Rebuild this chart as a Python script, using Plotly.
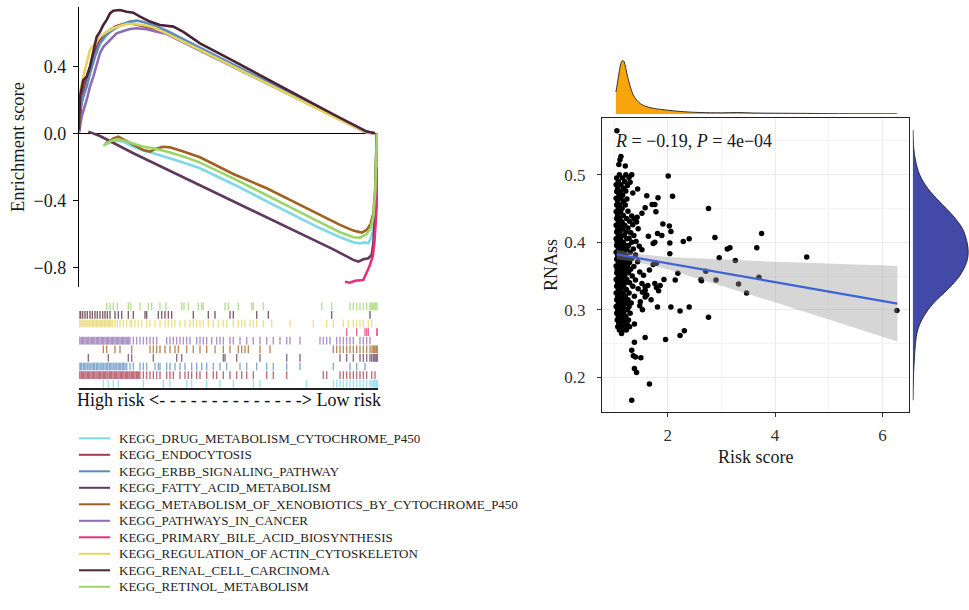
import plotly.graph_objects as go

W, H = 969, 610
FONT = "Liberation Serif, Times New Roman, serif"

# ---------------- GSEA data ----------------
gene_sets = [
    "KEGG_DRUG_METABOLISM_CYTOCHROME_P450",
    "KEGG_ENDOCYTOSIS",
    "KEGG_ERBB_SIGNALING_PATHWAY",
    "KEGG_FATTY_ACID_METABOLISM",
    "KEGG_METABOLISM_OF_XENOBIOTICS_BY_CYTOCHROME_P450",
    "KEGG_PATHWAYS_IN_CANCER",
    "KEGG_PRIMARY_BILE_ACID_BIOSYNTHESIS",
    "KEGG_REGULATION_OF ACTIN_CYTOSKELETON",
    "KEGG_RENAL_CELL_CARCINOMA",
    "KEGG_RETINOL_METABOLISM",
]
set_colors = ["#7DD8E8", "#A33A4E", "#5B8DBE", "#5E3A5C", "#A0601E",
              "#8E6DB2", "#E8307A", "#E5D65A", "#4A2436", "#9BD66A"]

# running enrichment score (rank position in ranked list, ES)
drug_rank = [83, 98, 113, 133, 163, 193, 223, 263, 313, 363, 463, 563, 633, 713, 783, 823, 843, 858, 868, 875, 883, 889, 894]
drug_es = [-0.064, -0.050, -0.044, -0.050, -0.080, -0.103, -0.119, -0.143, -0.175, -0.209, -0.304, -0.406, -0.478, -0.557, -0.621, -0.651, -0.657, -0.651, -0.657, -0.627, -0.577, -0.418, 0.000]
endo_rank = [0, 8, 18, 33, 48, 63, 78, 93, 108, 123, 143, 163, 193, 223, 263, 363, 463, 563, 663, 763, 863, 883]
endo_es = [0.010, 0.199, 0.299, 0.398, 0.488, 0.557, 0.597, 0.617, 0.637, 0.647, 0.657, 0.653, 0.641, 0.627, 0.606, 0.503, 0.402, 0.302, 0.203, 0.101, 0.006, 0.000]
erbb_rank = [0, 3, 13, 23, 33, 48, 63, 78, 93, 113, 133, 153, 173, 193, 223, 263, 363, 463, 563, 663, 763, 863, 888]
erbb_es = [0.010, 0.139, 0.219, 0.279, 0.358, 0.458, 0.537, 0.577, 0.606, 0.633, 0.653, 0.667, 0.673, 0.665, 0.647, 0.613, 0.511, 0.412, 0.310, 0.211, 0.109, 0.010, 0.000]
fatty_rank = [28, 63, 163, 263, 363, 463, 563, 663, 763, 823, 838, 853, 868, 878, 883, 888, 891, 893]
fatty_es = [0.010, -0.016, -0.119, -0.215, -0.310, -0.406, -0.501, -0.597, -0.693, -0.756, -0.766, -0.752, -0.746, -0.726, -0.657, -0.498, -0.239, 0.000]
xeno_rank = [78, 88, 103, 118, 133, 153, 173, 193, 213, 233, 253, 273, 313, 363, 463, 563, 633, 713, 783, 823, 848, 863, 875, 883, 889, 893]
xeno_es = [-0.064, -0.050, -0.030, -0.020, -0.036, -0.060, -0.080, -0.100, -0.109, -0.090, -0.080, -0.084, -0.109, -0.143, -0.243, -0.328, -0.398, -0.478, -0.547, -0.581, -0.593, -0.577, -0.541, -0.478, -0.318, 0.000]
cancer_rank = [0, 8, 23, 33, 43, 53, 63, 73, 83, 98, 113, 133, 153, 173, 203, 233, 263, 363, 463, 563, 663, 763, 863, 883]
cancer_es = [0.004, 0.100, 0.199, 0.279, 0.338, 0.408, 0.478, 0.517, 0.537, 0.567, 0.597, 0.611, 0.623, 0.627, 0.621, 0.606, 0.593, 0.494, 0.396, 0.297, 0.197, 0.098, 0.004, 0.000]
bile_rank = [798, 813, 828, 853, 861, 871, 881, 886, 890, 894, 896]
bile_es = [-0.886, -0.892, -0.880, -0.876, -0.840, -0.796, -0.737, -0.657, -0.537, -0.398, -0.200]
actin_rank = [0, 3, 13, 23, 33, 48, 63, 83, 103, 123, 143, 163, 193, 223, 263, 363, 463, 563, 663, 763, 863, 883]
actin_es = [0.040, 0.249, 0.338, 0.418, 0.498, 0.537, 0.577, 0.606, 0.627, 0.641, 0.653, 0.653, 0.647, 0.633, 0.597, 0.498, 0.398, 0.299, 0.199, 0.100, 0.006, 0.000]
renal_rank = [0, 3, 13, 23, 33, 43, 53, 63, 73, 83, 93, 103, 123, 143, 163, 183, 213, 243, 263, 283, 313, 363, 463, 563, 663, 763, 863, 888]
renal_es = [0.020, 0.219, 0.318, 0.338, 0.398, 0.498, 0.577, 0.606, 0.647, 0.677, 0.716, 0.732, 0.736, 0.726, 0.720, 0.697, 0.667, 0.647, 0.641, 0.637, 0.606, 0.537, 0.432, 0.324, 0.219, 0.113, 0.010, 0.000]
retinol_rank = [73, 83, 98, 113, 128, 143, 163, 193, 223, 263, 313, 363, 463, 563, 633, 713, 783, 823, 843, 863, 875, 883, 889, 894]
retinol_es = [-0.076, -0.060, -0.044, -0.036, -0.040, -0.050, -0.064, -0.080, -0.090, -0.109, -0.139, -0.175, -0.269, -0.368, -0.442, -0.521, -0.591, -0.621, -0.623, -0.601, -0.567, -0.498, -0.338, 0.000]

# hit positions of each gene set in the ranked list
drug_hits = [73, 88, 103, 118, 193, 253, 273, 323, 338, 383, 423, 463, 523, 543, 683, 763, 773, 783, 793, 803, 813, 823, 833, 843, 853, 863, 873, 879, 883, 885, 888, 891, 893, 895, 897]
endo_hits = [0, 3, 7, 10, 14, 18, 21, 25, 29, 32, 36, 40, 43, 47, 51, 54, 58, 62, 65, 69, 73, 76, 80, 84, 87, 91, 95, 98, 102, 106, 109, 113, 117, 120, 124, 128, 131, 135, 139, 142, 146, 150, 153, 157, 161, 164, 168, 172, 175, 179, 183,
             193, 203, 213, 223, 233, 243, 263, 273, 283, 303, 318, 328, 338, 353, 363, 383, 403, 413, 433, 453, 473, 488, 503, 523, 563, 583, 623, 733, 743, 783, 793, 803, 813, 823, 833, 843, 853, 863, 878, 888]
erbb_hits = [0, 4, 8, 13, 17, 21, 26, 30, 34, 39, 43, 47, 52, 56, 60, 65, 69, 73, 78, 82, 86, 91, 95, 99, 104, 108, 112, 117, 121, 125, 130, 134, 138, 143,
             153, 163, 183, 193, 203, 228, 238, 243, 263, 273, 288, 303, 318, 338, 353, 368, 383, 403, 423, 443, 483, 503, 533, 563, 583, 623, 663, 763, 813, 833, 858]
fatty_hits = [28, 88, 148, 158, 223, 293, 308, 433, 438, 473, 543, 623, 663, 783, 803, 823, 843, 853, 863, 873, 878, 883, 886, 888, 891, 893, 896]
xeno_hits = [73, 83, 108, 123, 158, 213, 223, 233, 243, 258, 273, 288, 298, 323, 343, 363, 383, 408, 433, 453, 478, 488, 498, 508, 543, 573,
             763, 773, 783, 793, 803, 813, 823, 833, 843, 853, 863, 873, 879, 883, 886, 888, 891, 893, 896]
cancer_hits = [0, 3, 7, 11, 14, 18, 22, 26, 29, 33, 37, 41, 44, 48, 52, 56, 59, 63, 67, 71, 74, 78, 82, 86, 89, 93, 97, 101, 104, 108, 112, 116, 119, 123, 127, 131, 134, 138, 142, 146, 149, 153,
               163, 173, 183, 193, 203, 213, 223, 233, 263, 273, 283, 293, 303, 313, 323, 333, 353, 363, 373, 383, 398, 413, 423, 433, 453, 463, 483, 503, 523, 543, 563, 583, 603, 623, 633, 663,
               723, 733, 743, 753, 773, 783, 793, 803, 813, 823, 843, 853, 863, 873]
bile_hits = [803, 833, 858, 863, 868, 893, 896]
actin_hits = [0, 3, 7, 12, 15, 19, 24, 27, 31, 36, 40, 43, 48, 52, 55, 60, 64, 67, 72, 76, 79, 84, 88, 91, 96, 100,
              108, 115, 123, 133, 143, 153, 158, 168, 178, 188, 203, 213, 228, 243, 258, 268, 278, 288, 303, 318, 333, 343, 353, 363, 373, 388, 403, 418, 433, 443, 463, 478, 488, 498, 513, 523, 533, 553, 578, 633,
              703, 743, 763, 793, 808, 823, 833, 843, 853, 868, 878]
renal_hits = [0, 5, 11, 18, 25, 33, 40, 48, 55, 63, 71, 78, 85, 93, 108, 118, 128, 148, 163, 198, 203, 238, 248, 258, 268, 278, 343, 388, 408, 453, 463, 533, 568, 758, 873]
retinol_hits = [83, 93, 103, 115, 148, 155, 183, 208, 218, 243, 261, 308, 315, 328, 358, 368, 373, 438, 448, 478, 518, 523, 553, 728, 758,
                813, 823, 833, 843, 853, 863, 873, 876, 879, 882, 885, 888, 891, 894]
N_GENES = 897

curves = [(drug_rank, drug_es), (endo_rank, endo_es), (erbb_rank, erbb_es), (fatty_rank, fatty_es),
          (xeno_rank, xeno_es), (cancer_rank, cancer_es), (bile_rank, bile_es), (actin_rank, actin_es),
          (renal_rank, renal_es), (retinol_rank, retinol_es)]
hits = [drug_hits, endo_hits, erbb_hits, fatty_hits, xeno_hits, cancer_hits, bile_hits, actin_hits, renal_hits, retinol_hits]

# ---------------- Correlation data ----------------
dense_points = [
    (1.10, 0.500), (1.22, 0.500), (1.33, 0.500), (1.05, 0.495), (1.16, 0.495), (1.28, 0.496),
    (1.08, 0.490), (1.20, 0.490), (1.30, 0.489), (1.04, 0.485), (1.13, 0.485), (1.25, 0.484),
    (1.07, 0.480), (1.18, 0.480), (1.05, 0.475), (1.12, 0.475), (1.22, 0.476), (1.09, 0.470), (1.16, 0.470),
    (1.04, 0.465), (1.13, 0.465), (1.24, 0.464), (1.07, 0.460), (1.18, 0.460),
    (1.05, 0.455), (1.11, 0.455), (1.21, 0.455), (1.08, 0.450), (1.15, 0.450),
    (1.04, 0.445), (1.12, 0.445), (1.26, 0.446), (1.07, 0.440), (1.17, 0.440), (1.33, 0.439),
    (1.05, 0.435), (1.11, 0.435), (1.23, 0.435), (1.38, 0.434), (1.08, 0.430), (1.15, 0.430), (1.29, 0.431), (1.42, 0.430),
    (1.04, 0.425), (1.12, 0.425), (1.20, 0.425), (1.35, 0.426), (1.07, 0.420), (1.16, 0.420), (1.26, 0.421), (1.45, 0.420),
    (1.05, 0.415), (1.11, 0.415), (1.22, 0.415), (1.31, 0.414), (1.08, 0.410), (1.14, 0.410), (1.19, 0.410), (1.37, 0.410),
    (1.04, 0.405), (1.12, 0.405), (1.24, 0.405), (1.28, 0.406), (1.06, 0.400), (1.10, 0.400), (1.17, 0.400), (1.33, 0.400), (1.41, 0.401),
    (1.05, 0.395), (1.13, 0.395), (1.21, 0.395), (1.27, 0.395), (1.47, 0.394), (1.08, 0.390), (1.15, 0.390), (1.24, 0.390), (1.36, 0.390), (1.52, 0.389),
    (1.04, 0.385), (1.11, 0.385), (1.19, 0.385), (1.30, 0.385), (1.07, 0.380), (1.14, 0.380), (1.22, 0.380), (1.40, 0.381),
    (1.05, 0.375), (1.10, 0.375), (1.17, 0.375), (1.26, 0.375), (1.33, 0.376), (1.08, 0.370), (1.13, 0.370), (1.21, 0.370), (1.29, 0.370), (1.44, 0.371),
    (1.04, 0.365), (1.11, 0.365), (1.18, 0.365), (1.25, 0.365), (1.37, 0.364), (1.06, 0.360), (1.14, 0.360), (1.22, 0.360), (1.31, 0.360),
    (1.05, 0.355), (1.10, 0.355), (1.17, 0.355), (1.27, 0.355), (1.48, 0.356), (1.08, 0.350), (1.13, 0.350), (1.20, 0.350), (1.34, 0.350), (1.55, 0.351),
    (1.04, 0.345), (1.11, 0.345), (1.16, 0.345), (1.24, 0.345), (1.40, 0.344), (1.07, 0.340), (1.14, 0.340), (1.21, 0.340), (1.29, 0.340), (1.52, 0.339),
    (1.05, 0.335), (1.10, 0.335), (1.18, 0.335), (1.35, 0.335), (1.58, 0.334), (1.08, 0.330), (1.13, 0.330), (1.23, 0.330), (1.45, 0.331),
    (1.04, 0.325), (1.11, 0.325), (1.17, 0.325), (1.28, 0.325), (1.53, 0.326), (1.07, 0.320), (1.15, 0.320), (1.21, 0.320), (1.38, 0.320),
    (1.05, 0.315), (1.12, 0.315), (1.19, 0.315), (1.26, 0.315), (1.08, 0.310), (1.14, 0.310), (1.23, 0.310), (1.32, 0.310),
    (1.04, 0.305), (1.11, 0.305), (1.17, 0.305), (1.28, 0.305), (1.48, 0.306), (1.07, 0.300), (1.14, 0.300), (1.20, 0.300), (1.25, 0.300),
    (1.05, 0.295), (1.12, 0.295), (1.18, 0.295), (1.30, 0.295), (1.08, 0.290), (1.15, 0.290), (1.22, 0.290),
    (1.06, 0.285), (1.13, 0.285), (1.19, 0.285), (1.27, 0.285), (1.09, 0.280), (1.16, 0.280), (1.24, 0.280),
    (1.07, 0.275), (1.12, 0.275), (1.20, 0.275), (1.29, 0.275), (1.10, 0.270), (1.17, 0.270), (1.23, 0.270), (1.14, 0.265),
]
spread_points = [
    (1.054, 0.565), (1.129, 0.527), (1.11, 0.522), (1.09, 0.515), (1.21, 0.513), (2.01, 0.498), (1.44, 0.479), (1.35, 0.473),
    (1.61, 0.469), (1.82, 0.466), (2.09, 0.468), (1.71, 0.456), (1.76, 0.456), (1.58, 0.451), (2.76, 0.450), (1.78, 0.445),
    (1.52, 0.443), (1.43, 0.437), (1.91, 0.427), (2.03, 0.424), (2.06, 0.416), (1.81, 0.413), (1.64, 0.409), (1.89, 0.410),
    (2.40, 0.405), (2.29, 0.401), (2.88, 0.407), (3.75, 0.413), (3.66, 0.392), (1.76, 0.400), (1.73, 0.398), (2.04, 0.399),
    (3.11, 0.390), (3.16, 0.392), (2.04, 0.383), (4.59, 0.378), (2.96, 0.377), (3.26, 0.373), (1.79, 0.369), (1.73, 0.367),
    (1.66, 0.359), (2.71, 0.357), (2.19, 0.354), (2.62, 0.345), (2.63, 0.343), (2.90, 0.344), (3.70, 0.348), (2.14, 0.344),
    (1.93, 0.345), (3.32, 0.338), (1.86, 0.336), (1.79, 0.333), (1.83, 0.328), (3.47, 0.325), (1.58, 0.319), (1.69, 0.315),
    (1.81, 0.304), (2.06, 0.304), (2.23, 0.298), (2.40, 0.304), (2.76, 0.289), (6.27, 0.299), (1.58, 0.259), (1.96, 0.256),
    (2.23, 0.262), (2.31, 0.269), (1.38, 0.279), (1.50, 0.229), (1.40, 0.230), (1.38, 0.213), (1.42, 0.207), (1.66, 0.190),
    (1.33, 0.166), (1.38, 0.252), (1.33, 0.240), (1.36, 0.232), (1.63, 0.336), (1.76, 0.339), (1.58, 0.329), (1.61, 0.322),
    (1.53, 0.300), (1.49, 0.312),
]
risk_score = [p[0] for p in dense_points + spread_points]
rnass = [p[1] for p in dense_points + spread_points]

# fitted regression line with 95% confidence band
fit_x = [1.05, 1.4, 2.0, 2.5, 3.0, 3.5, 4.0, 4.5, 5.0, 5.5, 6.0, 6.28]
fit_y = [0.382, 0.377, 0.369, 0.362, 0.355, 0.348, 0.341, 0.334, 0.327, 0.320, 0.313, 0.309]
ci_upper = [0.389, 0.383, 0.378, 0.376, 0.374, 0.373, 0.371, 0.370, 0.368, 0.367, 0.366, 0.365]
ci_lower = [0.375, 0.371, 0.360, 0.348, 0.336, 0.323, 0.311, 0.298, 0.286, 0.273, 0.260, 0.253]

# marginal densities (relative heights)
risk_dens_x = [1.035, 1.06, 1.09, 1.12, 1.15, 1.18, 1.21, 1.25, 1.30, 1.35, 1.42, 1.50, 1.60, 1.75, 2.0, 2.3, 2.6, 3.0, 3.3, 3.6, 4.0, 4.6, 5.2, 6.27]
risk_dens = [22, 30, 40, 49, 53, 53, 48, 38, 28, 20, 14, 10, 7.5, 5.5, 3.8, 2.3, 1.5, 1.2, 1.5, 1.0, 0.8, 0.6, 0.3, 0.2]
rnass_dens_y = [0.566, 0.54, 0.52, 0.50, 0.48, 0.46, 0.44, 0.42, 0.40, 0.385, 0.37, 0.35, 0.33, 0.31, 0.29, 0.27, 0.25, 0.23, 0.21, 0.19, 0.166]
rnass_dens = [0.3, 1.0, 3.0, 7.0, 15, 27, 40, 50, 54.5, 55.7, 54, 47, 35, 21, 11, 5, 2.8, 1.8, 1.0, 0.6, 0.3]

corr_text = "<i>R</i> = \u22120.19, <i>P</i> = 4e\u221204"


def fx(p):
    return p / W


def fy(p):
    return 1 - p / H


fig = go.Figure()

# ---- GSEA running score ----
for name, col, (rk, es) in zip(gene_sets, set_colors, curves):
    fig.add_trace(go.Scatter(x=rk, y=es, mode="lines", line=dict(color=col, width=2.6),
                             name=name, showlegend=False, xaxis="x", yaxis="y"))

# ---- rug of hits ----
for i, (col, hv) in enumerate(zip(set_colors, hits)):
    xs, ys = [], []
    for h in hv:
        xs += [h, h, None]
        ys += [i + 0.05, i + 0.95, None]
    fig.add_trace(go.Scatter(x=xs, y=ys, mode="lines", line=dict(color=col, width=1.4),
                             opacity=0.72, showlegend=False, hoverinfo="skip",
                             xaxis="x2", yaxis="y2"))

# ---- scatter ----
fig.add_trace(go.Scatter(x=risk_score, y=rnass, mode="markers",
                         marker=dict(color="black", size=5.5), showlegend=False,
                         xaxis="x3", yaxis="y3"))
fig.add_trace(go.Scatter(x=fit_x, y=ci_lower, mode="lines", line=dict(width=0),
                         showlegend=False, hoverinfo="skip", xaxis="x3", yaxis="y3"))
fig.add_trace(go.Scatter(x=fit_x, y=ci_upper, mode="lines", line=dict(width=0),
                         fill="tonexty", fillcolor="rgba(153,153,153,0.4)",
                         showlegend=False, hoverinfo="skip", xaxis="x3", yaxis="y3"))
fig.add_trace(go.Scatter(x=fit_x, y=fit_y, mode="lines", line=dict(color="#3F63D6", width=2.2),
                         showlegend=False, xaxis="x3", yaxis="y3"))

# ---- marginal densities ----
fig.add_trace(go.Scatter(x=risk_dens_x, y=risk_dens, mode="lines", fill="tozeroy",
                         fillcolor="#F7A50A", line=dict(color="#222", width=0.9, shape="spline"),
                         showlegend=False, xaxis="x4", yaxis="y4"))
fig.add_trace(go.Scatter(x=rnass_dens, y=rnass_dens_y, mode="lines", fill="tozerox",
                         fillcolor="#4249A6", line=dict(color="#222", width=0.9, shape="spline"),
                         showlegend=False, xaxis="x5", yaxis="y5"))

tick_font_l = dict(family=FONT, size=18, color="#1a1a1a")
tick_font_r = dict(family=FONT, size=17, color="#333")

x_dom_l = [fx(79), fx(378)]
x_dom_r = [fx(602), fx(909)]
y_dom_r = [fy(412), fy(118)]
x_rng_r = [0.776, 6.496]
y_rng_r = [0.1486, 0.584]

fig.update_layout(
    width=W, height=H, margin=dict(l=0, r=0, t=0, b=0),
    paper_bgcolor="white", plot_bgcolor="rgba(0,0,0,0)",
    showlegend=False, font=dict(family=FONT, color="#1a1a1a"),
    xaxis=dict(domain=x_dom_l, range=[0, N_GENES], visible=False, anchor="y"),
    yaxis=dict(domain=[fy(286.7), fy(6.7)], range=[-0.916, 0.756], anchor="x",
               showline=True, linecolor="black", linewidth=1.4,
               ticks="outside", ticklen=5, tickcolor="black", tickwidth=1.2,
               tickvals=[-0.8, -0.4, 0.0, 0.4], ticktext=["\u22120.8", "\u22120.4", "0.0", "0.4"],
               tickfont=tick_font_l, ticklabelstandoff=3,
               showgrid=False, zeroline=True, zerolinecolor="black", zerolinewidth=1.4),
    xaxis2=dict(domain=x_dom_l, range=[0, N_GENES], anchor="y2", showline=True,
                linecolor="#222", linewidth=1.6, showticklabels=False, ticks="",
                showgrid=False, zeroline=False),
    yaxis2=dict(domain=[fy(388), fy(302)], range=[0, 10], anchor="x2", visible=False),
    xaxis3=dict(domain=x_dom_r, range=x_rng_r, anchor="y3", showline=True, mirror=True,
                linecolor="#222", linewidth=1.2, ticks="outside", ticklen=4, tickcolor="#333",
                tickvals=[2, 4, 6], tickfont=tick_font_r, ticklabelstandoff=3,
                showgrid=True, gridcolor="#EBEBEB", gridwidth=1, zeroline=False,
                minor=dict(tickvals=[1, 3, 5], showgrid=True, gridcolor="#F3F3F3", gridwidth=0.6, ticks="")),
    yaxis3=dict(domain=y_dom_r, range=y_rng_r, anchor="x3", showline=True, mirror=True,
                linecolor="#222", linewidth=1.2, ticks="outside", ticklen=4, tickcolor="#333",
                tickvals=[0.2, 0.3, 0.4, 0.5], ticktext=["0.2", "0.3", "0.4", "0.5"],
                tickfont=tick_font_r, ticklabelstandoff=8,
                showgrid=True, gridcolor="#EBEBEB", gridwidth=1, zeroline=False,
                minor=dict(tickvals=[0.15, 0.25, 0.35, 0.45, 0.55], showgrid=True,
                           gridcolor="#F3F3F3", gridwidth=0.6, ticks="")),
    xaxis4=dict(domain=x_dom_r, range=x_rng_r, anchor="y4", visible=False),
    yaxis4=dict(domain=[fy(114), fy(58)], range=[0, 56], anchor="x4", visible=False),
    xaxis5=dict(domain=[fx(912.7), 1.0], range=[0, 56.5], anchor="y5", visible=False),
    yaxis5=dict(domain=y_dom_r, range=y_rng_r, anchor="x5", visible=False),
)


def label(text, px, py, size=18, angle=0, xanchor="center", color="#1a1a1a"):
    return dict(text=text, x=fx(px), y=fy(py), xref="paper", yref="paper",
                xanchor=xanchor, yanchor="middle", textangle=angle, showarrow=False,
                font=dict(family=FONT, size=size, color=color))


ann = [
    label("Enrichment score", 18, 147, size=18.5, angle=-90),
    label("High risk <b>&lt;</b>" + "- " * 13 + "-<b>&gt;</b> Low risk", 229, 400, size=18, color="#111"),
    label("Risk score", 756, 457),
    label("RNAss", 551, 265, angle=-90),
    label(corr_text, 613, 141, xanchor="left"),
]

shapes = []
for i, (name, col) in enumerate(zip(gene_sets, set_colors)):
    py = 438.3 + 16.5 * i
    shapes.append(dict(type="line", xref="paper", yref="paper", x0=fx(79), x1=fx(110),
                       y0=fy(py), y1=fy(py), line=dict(color=col, width=2)))
    ann.append(label(name, 117, py, size=13, xanchor="left", color="#222"))

fig.update_layout(annotations=ann, shapes=shapes)

fig.write_html("out.html", include_plotlyjs=True, config={"displayModeBar": False},
               post_script="document.body.style.margin='0';document.body.style.overflow='hidden';")
